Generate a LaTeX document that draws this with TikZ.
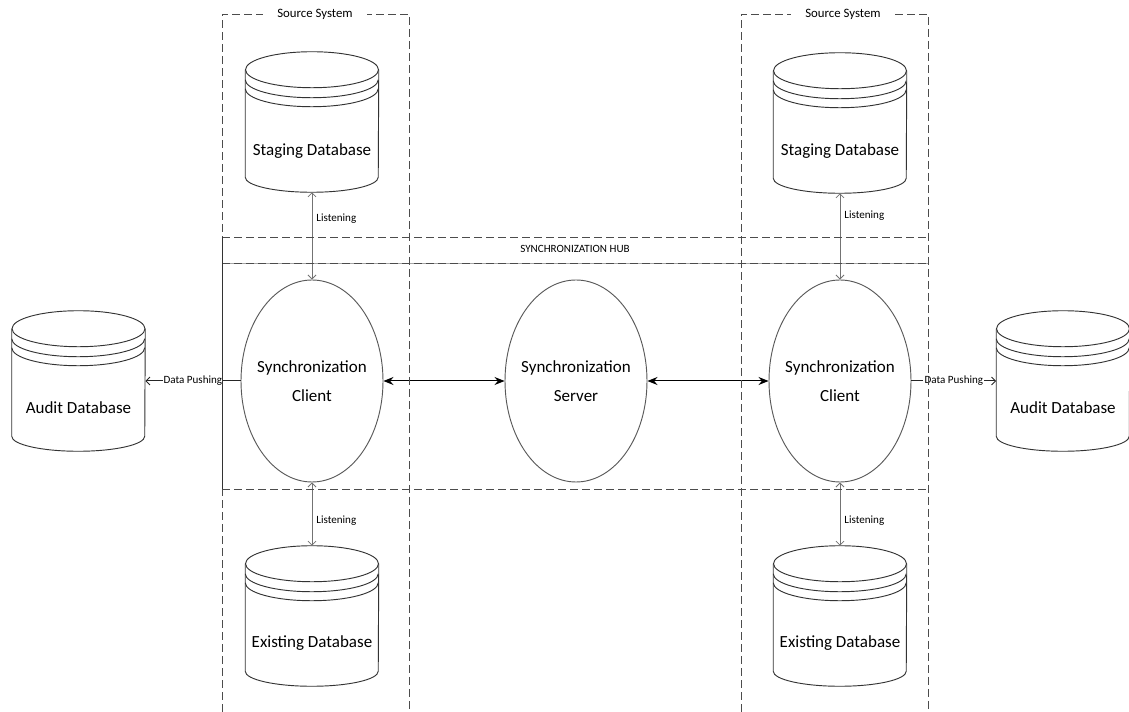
\documentclass[tikz,border=0pt]{standalone}
\usepackage{fontspec}
\setmainfont{Carlito}
\usetikzlibrary{shapes.geometric,arrows.meta}

% cylinder outline with two bands under the lid, drawn round a named node
\newcommand\dbcyl[1]{%
  \draw[dbline] ([yshift=-13.5pt]#1.north west) -- ([yshift=11.25pt]#1.south west)
    arc[start angle=180, end angle=360, x radius=49.875pt, y radius=11.25pt]
    -- ([yshift=-13.5pt]#1.north east);
  \draw[dbline] ([yshift=-13.5pt]#1.north) ellipse [x radius=49.875pt, y radius=13.5pt];
  \draw[dbline] ([yshift=-21pt]#1.north west)
    arc[start angle=180, end angle=360, x radius=49.875pt, y radius=13.5pt];
  \draw[dbline] ([yshift=-27.75pt]#1.north west)
    arc[start angle=180, end angle=360, x radius=49.875pt, y radius=13.5pt];
}
% two centred lines of zero width, so the ellipse keeps its own size
\newcommand\twolines[2]{\makebox[0pt]{#1}\\\makebox[0pt]{#2}}

\tikzset{
  dbline/.style={draw=black!80, line width=0.7pt},
  dbshape/.style={rectangle, minimum width=99.75pt, minimum height=105pt, inner sep=0pt},
  dbtext/.style={font=\fontsize{12.75}{15}\selectfont, inner sep=0pt},
  proc/.style={ellipse, draw=black!65, line width=0.7pt, minimum width=106.5pt,
    minimum height=151.5pt, inner sep=0pt, align=center,
    font=\fontsize{12.75}{21.75}\selectfont},
  lbl/.style={font=\fontsize{8.3}{10}\selectfont, inner sep=1pt},
  srclbl/.style={font=\fontsize{9.6}{11}\selectfont, fill=white, inner xsep=11pt, inner ysep=2pt},
  frame/.style={draw=black!70, line width=0.7pt, dash pattern=on 6pt off 3pt},
  listen/.style={draw=black!55, line width=0.6pt,
    {Straight Barb[length=3pt,width=6pt]}-{Straight Barb[length=3pt,width=6pt]}},
  sync/.style={draw=black, line width=0.75pt,
    {Stealth[length=7.5pt,width=6pt]}-{Stealth[length=7.5pt,width=6pt]}},
  push/.style={draw=black!85, line width=0.75pt, -{Straight Barb[length=3pt,width=6pt]}},
}

\begin{document}
\begin{tikzpicture}[x=0.75pt, y=-0.75pt]
\useasboundingbox (0,0) rectangle (1129,712);

% databases
\node[dbshape] (stgL) at (312,122) {};
\node[dbshape] (stgR) at (840,123) {};
\node[dbshape] (exL)  at (312,616) {};
\node[dbshape] (exR)  at (840,616) {};
\node[dbshape] (audL) at (78.5,381) {};
\node[dbshape] (audR) at (1063,381) {};
\dbcyl{stgL}\dbcyl{stgR}\dbcyl{exL}\dbcyl{exR}\dbcyl{audL}\dbcyl{audR}
\node[dbtext] (stgLt) at ([yshift=-21.75pt]stgL.center) {Staging Database};
\node[dbtext] (stgRt) at ([yshift=-21pt]stgR.center) {Staging Database};
\node[dbtext] (exLt)  at ([yshift=-20.25pt]exL.center) {Existing Database};
\node[dbtext] (exRt)  at ([yshift=-20.25pt]exR.center) {Existing Database};
\node[dbtext] (audLt) at ([yshift=-20.25pt]audL.center) {Audit Database};
\node[dbtext] (audRt) at ([yshift=-20.25pt]audR.center) {Audit Database};

% processes
\node[proc] (cliL) at (312,381) {\twolines{Synchronization}{Client}};
\node[proc] (srv)  at (576,381) {\twolines{Synchronization}{Server}};
\node[proc] (cliR) at (840,381) {\twolines{Synchronization}{Client}};

% connectors
\draw[sync] (cliL.east) -- (srv.west);
\draw[sync] (srv.east) -- (cliR.west);
\draw[listen] (stgL.south) -- node[lbl, anchor=west, pos=0.3, xshift=2pt] (lis1) {Listening} (cliL.north);
\draw[listen] (stgR.south) -- node[lbl, anchor=west, pos=0.26, xshift=2pt] (lis2) {Listening} (cliR.north);
\draw[listen] (cliL.south) -- node[lbl, anchor=west, pos=0.6, xshift=2pt] (lis3) {Listening} (exL.north);
\draw[listen] (cliR.south) -- node[lbl, anchor=west, pos=0.6, xshift=2pt] (lis4) {Listening} (exR.north);
\draw[push] (cliL.west) -- node[lbl, fill=white, inner sep=0.8pt] (pushL) {Data Pushing} (audL.east);
\draw[push] (cliR.east) -- node[lbl, fill=white, inner sep=0.8pt] (pushR) {Data Pushing} (audR.west);

% source systems and synchronization hub
\draw[frame] (222,712) -- (222,14) -- (409,14) -- (409,712);
\draw[frame] (741,712) -- (741,14) -- (928,14) -- (928,712);
\draw[frame] (222,237) -- (928,237);
\draw[draw=black!35, line width=0.5pt] (222,263) -- (928,263);
\draw[frame] (222,263) -- (928,263);
\draw[frame] (222,489) -- (928,489);
\draw[draw=black!80, line width=0.75pt] (222,237) -- (222,489);

\node[srclbl] (srcL) at (315,14) {Source System};
\node[srclbl] (srcR) at (843,14) {Source System};
\node[lbl] (hub) at (575,249) {SYNCHRONIZATION HUB};
\end{tikzpicture}
\end{document}
